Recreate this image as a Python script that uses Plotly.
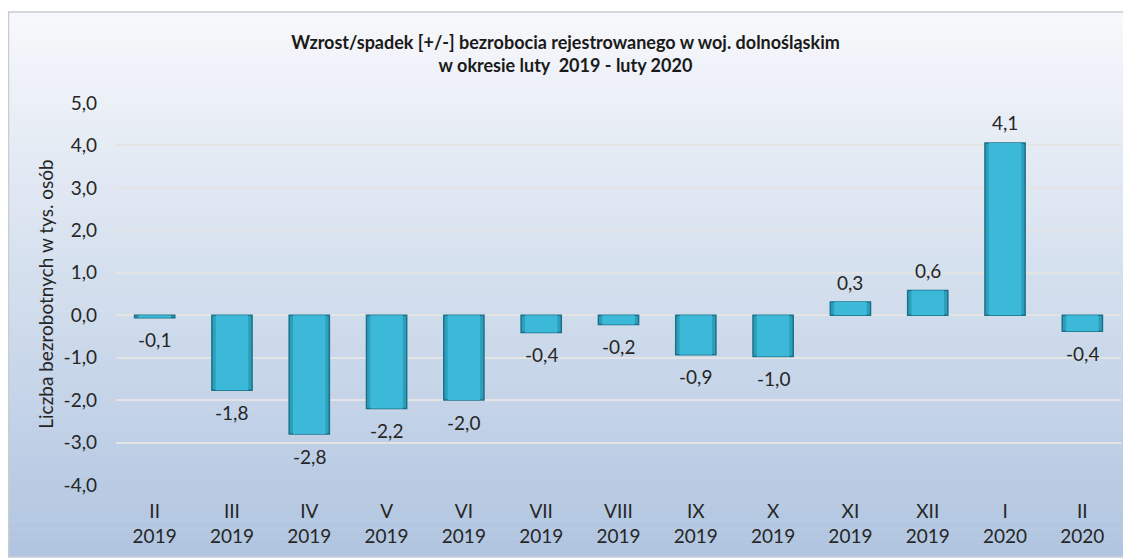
import plotly.graph_objects as go

months = ["II", "III", "IV", "V", "VI", "VII", "VIII", "IX", "X", "XI", "XII", "I", "II"]
years = ["2019"] * 11 + ["2020"] * 2
change = [-0.06, -1.77, -2.8, -2.2, -2.0, -0.41, -0.22, -0.93, -0.97, 0.31, 0.58, 4.06, -0.38]
y_ticks = [-4, -3, -2, -1, 0, 1, 2, 3, 4, 5]
y_tick_text = ["-4,0", "-3,0", "-2,0", "-1,0", "0,0", "1,0", "2,0", "3,0", "4,0", "5,0"]

labels = [f"{m}<br>{y}" for m, y in zip(months, years)]
# the page body keeps its default 8px margin, so the figure is a bit smaller
W, H = 1123, 551
ML, MR, MT, MB = 108, 10, 95, 74
PW, PH = W - ML - MR, H - MT - MB
FONT = "Lato, Calibri, sans-serif"


def px_x(x):
    return (x - ML) / PW


def px_y(y):
    return (H - MB - y) / PH


def mix(c1, c2, t):
    return "#" + "".join(f"{round(a + (b - a) * t):02x}" for a, b in zip(c1, c2))


# gradient panel behind the chart
shapes = []
top_c, bot_c = (247, 248, 251), (176, 197, 224)
left, right, top, bottom = 0, W, 4, 549
n = 60
for i in range(n):
    ya = top + (bottom - top) * i / n
    yb = top + (bottom - top) * (i + 1) / n
    shapes.append(dict(type="rect", xref="paper", yref="paper",
                       x0=px_x(left), x1=px_x(right), y0=px_y(yb), y1=px_y(ya - 0.5),
                       layer="below", line_width=0,
                       fillcolor=mix(top_c, bot_c, (i + 0.5) / n)))
shapes.append(dict(type="rect", xref="paper", yref="paper",
                   x0=px_x(left + 0.5), x1=px_x(right + 5), y0=px_y(bottom), y1=px_y(top),
                   layer="below", line=dict(color="#c9cdd2", width=1.5)))

fig = go.Figure()
# outer (darker) bar body
fig.add_trace(go.Bar(
    x=labels, y=change, width=0.52,
    marker=dict(color="#2c9fbd", line=dict(color="#1b7189", width=1.5)),
    hoverinfo="skip",
))
# lighter inner face for a bevelled look
fig.add_trace(go.Bar(
    x=labels, y=change, width=0.42,
    marker=dict(color="#3cb9d8", line_width=0),
))

annotations = [
    dict(x=lab, y=v, text=f"{v:.1f}".replace(".", ","),
         showarrow=False, xref="x", yref="y", yanchor="middle",
         yshift=20 if v > 0 else -22,
         font=dict(family=FONT, size=19, color="#262626"))
    for lab, v in zip(labels, change)
]

fig.update_layout(
    width=W, height=H,
    paper_bgcolor="white", plot_bgcolor="rgba(0,0,0,0)",
    barmode="overlay",
    margin=dict(l=ML, r=MR, t=MT, b=MB),
    title=dict(text="<b>Wzrost/spadek [+/-] bezrobocia rejestrowanego w woj. dolnośląskim<br>w okresie luty  2019 - luty 2020</b>",
               x=0.5 - 4 / W, xanchor="center", y=1 - 41 / H, yanchor="top",
               font=dict(family=FONT, size=18, color="#1a1a1a")),
    font=dict(family=FONT, size=19, color="#262626"),
    showlegend=False,
    shapes=shapes,
    annotations=annotations,
    xaxis=dict(showgrid=False, showline=False, ticks="", tickfont=dict(size=19),
               ticklabelstandoff=13),
    yaxis=dict(range=[-4, 5], tickvals=y_ticks, ticktext=y_tick_text, showgrid=True,
               gridcolor="#e4e4e4", gridwidth=2, zeroline=False,
               ticks="", ticklabelstandoff=18, tickfont=dict(size=19),
               title=dict(text="Liczba bezrobotnych w tys. osób", standoff=4,
                          font=dict(size=19))),
)

fig.write_html("out.html")
